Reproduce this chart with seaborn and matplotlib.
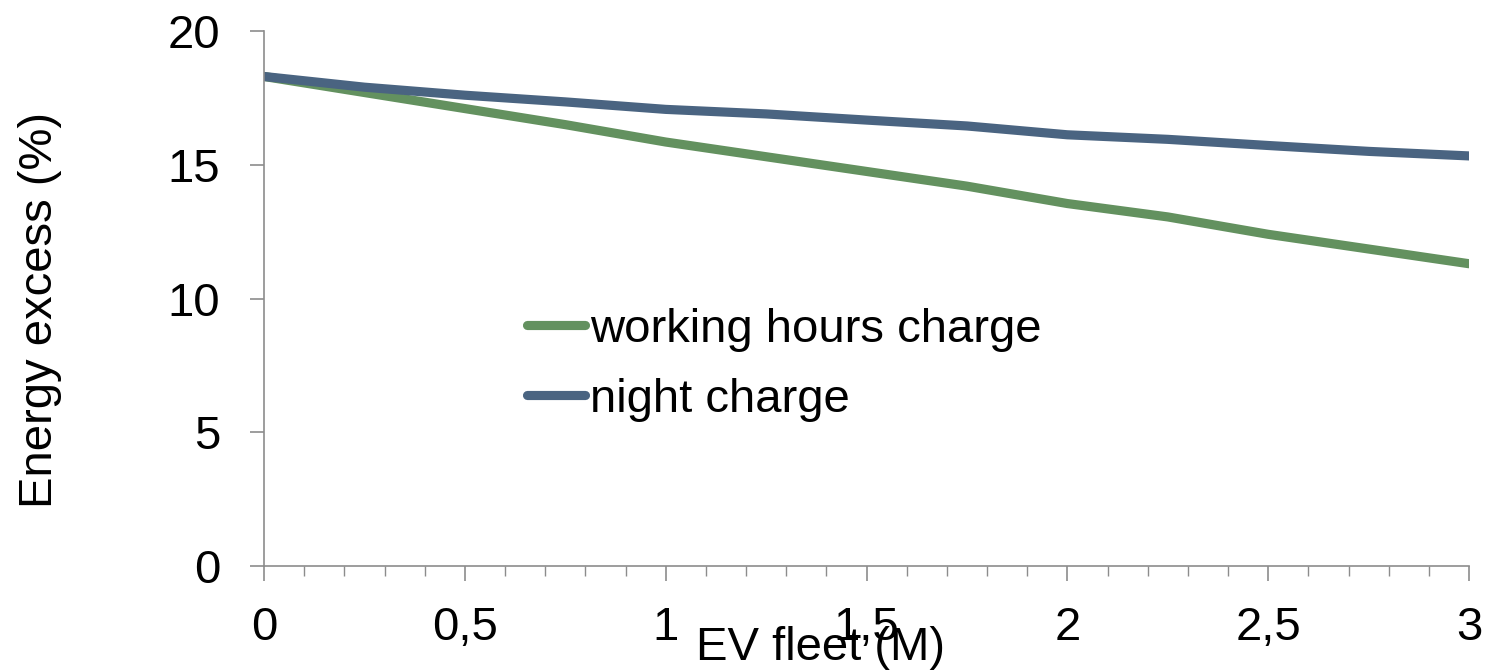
import numpy as np
import pandas as pd
import matplotlib
matplotlib.use("Agg")
import matplotlib.pyplot as plt
from matplotlib.ticker import FuncFormatter, MultipleLocator
import seaborn as sns

# Data
fleet = [0, 0.25, 0.5, 0.75, 1.0, 1.25, 1.5, 1.75, 2.0, 2.25, 2.5, 2.75, 3.0]
working_hours = [18.3, 17.7, 17.1, 16.5, 15.85, 15.3, 14.75, 14.2, 13.55, 13.05, 12.4, 11.85, 11.3]
night = [18.3, 17.9, 17.6, 17.35, 17.07, 16.9, 16.67, 16.45, 16.12, 15.95, 15.72, 15.5, 15.33]
series_names = ["working hours charge", "night charge"]
colors = ["#63915f", "#4a6481"]
x_ticks = [0, 0.5, 1, 1.5, 2, 2.5, 3]
y_ticks = [0, 5, 10, 15, 20]

df = pd.concat([
    pd.DataFrame({"fleet": fleet, "value": working_hours, "series": series_names[0]}),
    pd.DataFrame({"fleet": fleet, "value": night, "series": series_names[1]}),
])

sns.set_theme(style="white")
plt.rcParams["font.family"] = ["Liberation Sans", "DejaVu Sans"]
plt.rcParams["text.color"] = "black"

FS = 34
LW = 6.6

fig = plt.figure(figsize=(14.86, 6.72), dpi=100)
ax = fig.add_axes([264/1486, 1-566/672, (1469-264)/1486, (566-31)/672])

sns.lineplot(data=df, x="fleet", y="value", hue="series", hue_order=series_names,
             palette=colors, linewidth=LW, ax=ax, legend=True)

ax.set_xlim(0, 3)
ax.set_ylim(0, 20)
ax.set_xticks(x_ticks)
ax.set_yticks(y_ticks)
ax.xaxis.set_minor_locator(MultipleLocator(0.1))

fmt = FuncFormatter(lambda v, p: (f"{v:g}").replace(".", ","))
ax.xaxis.set_major_formatter(fmt)
ax.yaxis.set_major_formatter(fmt)

for s in ["top", "right"]:
    ax.spines[s].set_visible(False)
for s in ["left", "bottom"]:
    ax.spines[s].set_color("#8c8c8c")
    ax.spines[s].set_linewidth(1.2)

ax.tick_params(axis="x", which="major", direction="out", length=11, width=1.2,
               color="#8c8c8c", labelsize=FS, pad=18, labelcolor="black", bottom=True)
ax.tick_params(axis="x", which="minor", direction="out", length=7, width=1.0,
               color="#8c8c8c", bottom=True)
ax.tick_params(axis="y", which="major", direction="out", length=10, width=1.2,
               color="#8c8c8c", labelsize=FS, pad=21.5, labelcolor="black", left=True)

ax.set_xlabel("EV fleet (M)", fontsize=FS, color="black")
ax.set_ylabel("Energy excess (%)", fontsize=FS, color="black")
ax.xaxis.set_label_coords(0.462, -0.113)
ax.yaxis.set_label_coords(-0.168, 0.478)

handles, labels = ax.get_legend_handles_labels()
leg = ax.legend(handles, labels, loc="upper left",
                bbox_to_anchor=(527/1486, 1-308/672), bbox_transform=fig.transFigure,
                frameon=False, fontsize=FS, handlelength=1.23, handletextpad=0.1,
                labelspacing=0.55, borderpad=0, borderaxespad=0)
for h in leg.get_lines():
    h.set_linewidth(LW)
    h.set_solid_capstyle("round")
for t in leg.get_texts():
    t.set_color("black")

fig.savefig("out.png", dpi=100)
